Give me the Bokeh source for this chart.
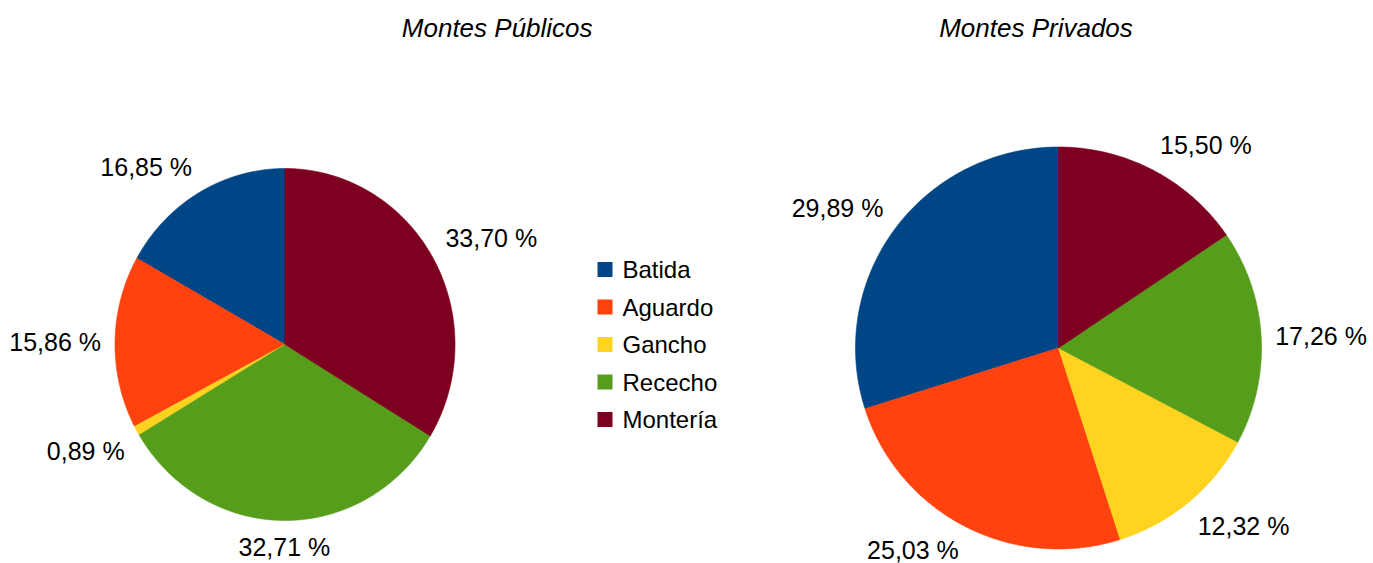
import numpy as np
from bokeh.plotting import figure
from bokeh.models import Range1d, ColumnDataSource
from bokeh.embed import file_html
from bokeh.resources import INLINE
from bokeh.core.properties import value

# ---- data ----
categories = ["Batida", "Aguardo", "Gancho", "Rececho", "Montería"]
colors = ["#004586", "#ff420e", "#ffd320", "#579d1c", "#7e0021"]
publicos = [16.85, 15.86, 0.89, 32.71, 33.70]
privados = [29.89, 25.03, 12.32, 17.26, 15.50]
titles = ["Montes Públicos", "Montes Privados"]

# ---- layout (screen pixels; y measured from top) ----
W, H = 1373, 563
PAGE_H = 563
FONT = "Liberation Sans"
pies = [
    dict(vals=publicos, cx=284.5, cy=344.0, rx=170.0, ry=176.0, title=titles[0], tx=496.7),
    dict(vals=privados, cx=1058.0, cy=347.5, rx=203.0, ry=201.0, title=titles[1], tx=1035.5),
]
TITLE_MID = 27.5
GAP = 14.0
HALF_H = 13.0  # half of the label box height


def Y(screen_y):
    return PAGE_H - screen_y


p = figure(width=W, height=H, x_range=Range1d(0, W), y_range=Range1d(0, H),
           output_backend="svg", toolbar_location=None, min_border=0)
p.axis.visible = False
p.grid.visible = False
p.outline_line_color = None
p.background_fill_color = "white"

for pie in pies:
    vals = pie["vals"]
    cx, cy, rx, ry = pie["cx"], Y(pie["cy"]), pie["rx"], pie["ry"]
    total = sum(vals)
    xs, ys = [], []
    lx, ly, ltxt, lalign = [], [], [], []
    start = 90.0
    for v in vals:
        span = v / total * 360.0
        a = np.radians(np.linspace(start, start + span, max(3, int(span * 2) + 2)))
        xs.append([cx] + list(cx + rx * np.cos(a)))
        ys.append([cy] + list(cy + ry * np.sin(a)))
        m = np.radians(start + span / 2)
        c, s = np.cos(m), np.sin(m)
        ax = cx + (rx + GAP) * c
        ay = cy + (ry + GAP) * s
        if c > 0.3:
            al = "left"
        elif c < -0.3:
            al = "right"
        else:
            al = "center"
        if s > 0.3:
            by = ay + HALF_H
        elif s < -0.3:
            by = ay - HALF_H
        else:
            by = ay
        by = max(by, HALF_H + 1.0)  # keep the label box inside the canvas
        lx.append(ax)
        ly.append(by)
        lalign.append(al)
        ltxt.append(f"{v:.2f}".replace(".", ",") + " %")
        start += span
    src = ColumnDataSource(dict(xs=xs, ys=ys, color=colors))
    p.patches("xs", "ys", source=src, fill_color="color", line_color="color", line_width=0.6)
    lsrc = ColumnDataSource(dict(x=lx, y=ly, t=ltxt, al=lalign))
    p.text("x", "y", text="t", source=lsrc, text_align="al", text_baseline="middle",
           text_font=value(FONT), text_font_size="25px", text_color="#000000")
    p.text([pie["tx"]], [Y(TITLE_MID)], text=[pie["title"]], text_align="center",
           text_baseline="middle", text_font=value(FONT), text_font_size="26px",
           text_font_style="italic", text_color="#000000")

# ---- legend ----
LEG_X = 604.5
LEG_Y0 = 269.0
LEG_DY = 37.5
ly = [Y(LEG_Y0 + i * LEG_DY) for i in range(len(categories))]
p.rect([LEG_X] * len(categories), ly, width=15, height=15, fill_color=colors, line_color=None)
p.text([622] * len(categories), ly, text=categories, text_align="left",
       text_baseline="middle", text_font=value(FONT), text_font_size="24px", text_color="#000000")

open("out.html", "w").write(file_html(p, INLINE))
